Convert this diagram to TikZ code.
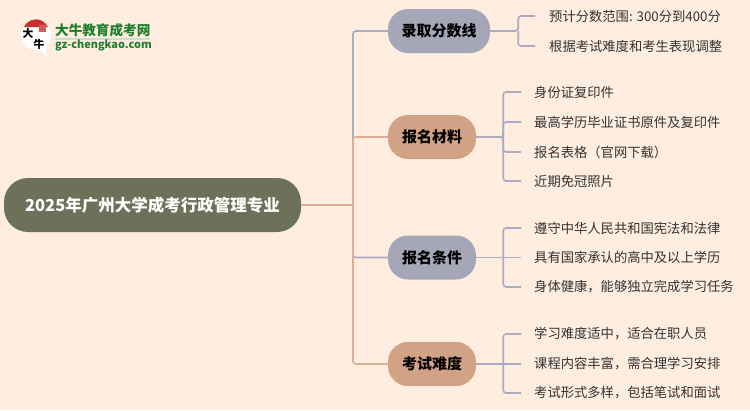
\documentclass[tikz,border=0pt]{standalone}
\usepackage{fontspec}
\setmainfont{Noto Sans CJK SC}
\usepackage{tikz}
\definecolor{pagebg}{HTML}{FFEEE0}
\definecolor{rootcol}{HTML}{6B7259}
\definecolor{graycol}{HTML}{A5A6B8}
\definecolor{orangecol}{HTML}{D2A286}
\definecolor{grayline}{HTML}{ABACC0}
\definecolor{orangeline}{HTML}{DDAE94}
\definecolor{logogreen}{HTML}{1F7F2E}
\definecolor{logored}{HTML}{C8302C}
\tikzset{
  rootbox/.style={rectangle,fill=rootcol,text=white,rounded corners=24pt,minimum height=54pt,minimum width=297pt,inner sep=0pt,font=\fontsize{16.5}{20}\selectfont\bfseries},
  branchbox/.style={rectangle,rounded corners=20pt,minimum height=44pt,inner sep=0pt,font=\fontsize{15}{18}\selectfont\bfseries,text=black},
  leaftext/.style={anchor=west,inner ysep=0pt,text=black!80,font=\fontsize{13.3}{16}\selectfont},
  logochar/.style={font=\fontsize{10.8}{11}\selectfont\bfseries,text=black,inner sep=0pt},
  glink/.style={draw=grayline,line width=1.6pt,rounded corners=3pt},
  olink/.style={draw=orangeline,line width=1.6pt,rounded corners=3pt}
}
\begin{document}
\begin{tikzpicture}[x=1pt,y=-1pt]
    \useasboundingbox (0,0) rectangle (750,410);
    \fill[pagebg] (0,0) rectangle (750,410);

    % logo
    \fill[white] (36,35) circle (15);
    \fill[white] (38,48) -- (47,57) -- (46,45) -- cycle;
    \fill[logored] (24,27) arc (205:335:13.2) -- cycle;
    \fill[logored!80] (39,25) rectangle (46,32);
    \node[logochar] (logoa) at (28,33) {大};
    \node[logochar] (logob) at (39,44) {牛};
    \node[font=\fontsize{13.6}{14}\selectfont\bfseries,text=logogreen,inner sep=0pt,anchor=west] (logotitle) at (55,30) {大牛教育成考网};
    \fill[logogreen!25] (55,38) rectangle (150,39.5);
    \node[font=\fontsize{10.9}{12}\selectfont\bfseries,text=logogreen,inner sep=0pt,anchor=west] (logourl) at (55,45) {gz-chengkao.com};

    % root and branches
    \node[rootbox] (root) at (152.5,205) {2025年广州大学成考行政管理专业};
    \node[branchbox,fill=graycol,minimum width=102pt] (score) at (439,31) {录取分数线};
    \node[branchbox,fill=orangecol,minimum width=88pt] (files) at (432,137) {报名材料};
    \node[branchbox,fill=graycol,minimum width=88pt] (terms) at (432,257.5) {报名条件};
    \node[branchbox,fill=orangecol,minimum width=88pt] (level) at (432,364) {考试难度};
    \coordinate (trunk) at (353,205);

    % leaves
    \node[leaftext,inner xsep=14pt] (scorea) at (535,16) {预计分数范围: 300分到400分};
    \node[leaftext,inner xsep=14pt] (scoreb) at (535,46) {根据考试难度和考生表现调整};

    \node[leaftext,inner xsep=13pt] (filesa) at (521,92) {身份证复印件};
    \node[leaftext,inner xsep=13pt] (filesb) at (521,122) {最高学历毕业证书原件及复印件};
    \node[leaftext,inner xsep=13pt] (filesc) at (521,152) {报名表格（官网下载）};
    \node[leaftext,inner xsep=13pt] (filesd) at (521,181) {近期免冠照片};

    \node[leaftext,inner xsep=13pt] (termsa) at (521,228) {遵守中华人民共和国宪法和法律};
    \node[leaftext,inner xsep=13pt] (termsb) at (521,257.5) {具有国家承认的高中及以上学历};
    \node[leaftext,inner xsep=13pt] (termsc) at (521,287) {身体健康，能够独立完成学习任务};

    \node[leaftext,inner xsep=13pt] (levela) at (521,334) {学习难度适中，适合在职人员};
    \node[leaftext,inner xsep=13pt] (levelb) at (521,364) {课程内容丰富，需合理学习安排};
    \node[leaftext,inner xsep=13pt] (levelc) at (521,393) {考试形式多样，包括笔试和面试};

    % main links
    \draw[glink] (trunk) |- (score.west);
    \draw[glink] (trunk) |- (terms.west);
    \draw[olink] (trunk) |- (files.west);
    \draw[olink] (trunk) |- (level.west);
    \draw[olink] (root.east) -- (trunk);

    % leaf links
    \draw[glink] (score.east) -- ++(28,0) |- (scorea.west);
    \draw[glink] (score.east) ++(28,0) |- (scoreb.west);

    \draw[glink] (files.east) ++(27,0) |- (filesa.west);
    \draw[glink] (files.east) -- ++(27,0) |- (filesb.west);
    \draw[glink] (files.east) -- ++(27,0) |- (filesc.west);
    \draw[glink] (files.east) ++(27,0) |- (filesd.west);

    \draw[glink] (terms.east) ++(27,0) |- (termsa.west);
    \draw[glink] (terms.east) -- (termsb.west);
    \draw[glink] (terms.east) ++(27,0) |- (termsc.west);

    \draw[glink] (level.east) ++(27,0) |- (levela.west);
    \draw[glink] (level.east) -- (levelb.west);
    \draw[glink] (level.east) ++(27,0) |- (levelc.west);
\end{tikzpicture}
\end{document}
